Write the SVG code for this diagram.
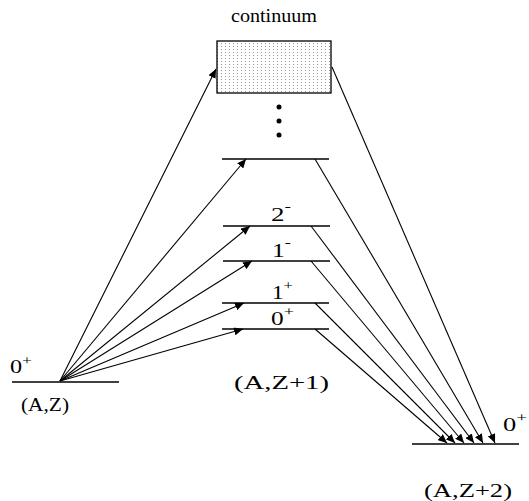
<svg xmlns="http://www.w3.org/2000/svg" width="529" height="501" viewBox="0 0 529 501">
<style>
text{font-family:"Liberation Serif","Times New Roman",serif;font-size:18px;fill:#000}
.sup{font-size:13px}
.lvl{stroke:#000;stroke-width:1.3;fill:none}
.arr{stroke:#000;stroke-width:1.1;fill:none;marker-end:url(#ah)}
</style>
<defs>
<marker id="ah" markerUnits="userSpaceOnUse" markerWidth="10" markerHeight="8" refX="9" refY="4" orient="auto">
<path d="M0,0 L9,4 L0,8 Z" fill="#000"/>
</marker>
<pattern id="dots" patternUnits="userSpaceOnUse" width="4" height="3">
<rect x="1" y="1" width="1" height="1" fill="#999"/>
</pattern>
</defs>
<rect width="529" height="501" fill="#fff"/>
<g id="continuum">
<rect x="217" y="41" width="114" height="52" fill="url(#dots)" stroke="#000" stroke-width="1.3"/>
<text x="274" y="22" text-anchor="middle" textLength="86" lengthAdjust="spacingAndGlyphs">continuum</text>
</g>
<g id="dots-ellipsis">
<circle cx="279" cy="107" r="2.5" fill="#000"/>
<circle cx="279" cy="121" r="2.5" fill="#000"/>
<circle cx="279" cy="135" r="2.5" fill="#000"/>
</g>
<g id="ground">
<line class="lvl" x1="12" y1="382" x2="119" y2="382"/>
<text x="10" y="373" textLength="22" lengthAdjust="spacingAndGlyphs">0<tspan class="sup" dy="-8">+</tspan></text>
<text x="21" y="411" textLength="48" lengthAdjust="spacingAndGlyphs">(A,Z)</text>
</g>
<g id="level-top">
<line class="lvl" x1="222" y1="159" x2="329" y2="159"/>
</g>
<g id="level-2minus">
<line class="lvl" x1="223" y1="226" x2="330" y2="226"/>
<text x="271" y="221" textLength="20" lengthAdjust="spacingAndGlyphs">2<tspan class="sup" dy="-10">-</tspan></text>
</g>
<g id="level-1minus">
<line class="lvl" x1="223" y1="261" x2="330" y2="261"/>
<text x="272" y="257" textLength="19" lengthAdjust="spacingAndGlyphs">1<tspan class="sup" dy="-10">-</tspan></text>
</g>
<g id="level-1plus">
<line class="lvl" x1="222" y1="303" x2="329" y2="303"/>
<text x="272" y="299" textLength="21" lengthAdjust="spacingAndGlyphs">1<tspan class="sup" dy="-9">+</tspan></text>
</g>
<g id="level-0plus">
<line class="lvl" x1="222" y1="329" x2="329" y2="329"/>
<text x="271" y="325" textLength="23" lengthAdjust="spacingAndGlyphs">0<tspan class="sup" dy="-9">+</tspan></text>
</g>
<g id="label-AZ1">
<text x="234" y="389" textLength="95" lengthAdjust="spacingAndGlyphs">(A,Z+1)</text>
</g>
<g id="final">
<line class="lvl" x1="412" y1="444" x2="519" y2="444"/>
<text x="503" y="431" textLength="24" lengthAdjust="spacingAndGlyphs">0<tspan class="sup" dy="-9">+</tspan></text>
<text x="424" y="497" textLength="88" lengthAdjust="spacingAndGlyphs">(A,Z+2)</text>
</g>
<g id="connectors">
<line class="arr" x1="60" y1="381" x2="216" y2="69"/>
<line class="arr" x1="60" y1="381" x2="246" y2="159"/>
<line class="arr" x1="60" y1="381" x2="250" y2="226"/>
<line class="arr" x1="60" y1="381" x2="252" y2="261"/>
<line class="arr" x1="60" y1="381" x2="244" y2="303"/>
<line class="arr" x1="60" y1="381" x2="243" y2="329"/>
<line class="arr" x1="332" y1="67" x2="495" y2="443"/>
<line class="arr" x1="315" y1="159" x2="483" y2="443"/>
<line class="arr" x1="311" y1="226" x2="474" y2="443"/>
<line class="arr" x1="311" y1="261" x2="464" y2="443"/>
<line class="arr" x1="315" y1="303" x2="455" y2="443"/>
<line class="arr" x1="315" y1="329" x2="447" y2="443"/>
</g>
</svg>
